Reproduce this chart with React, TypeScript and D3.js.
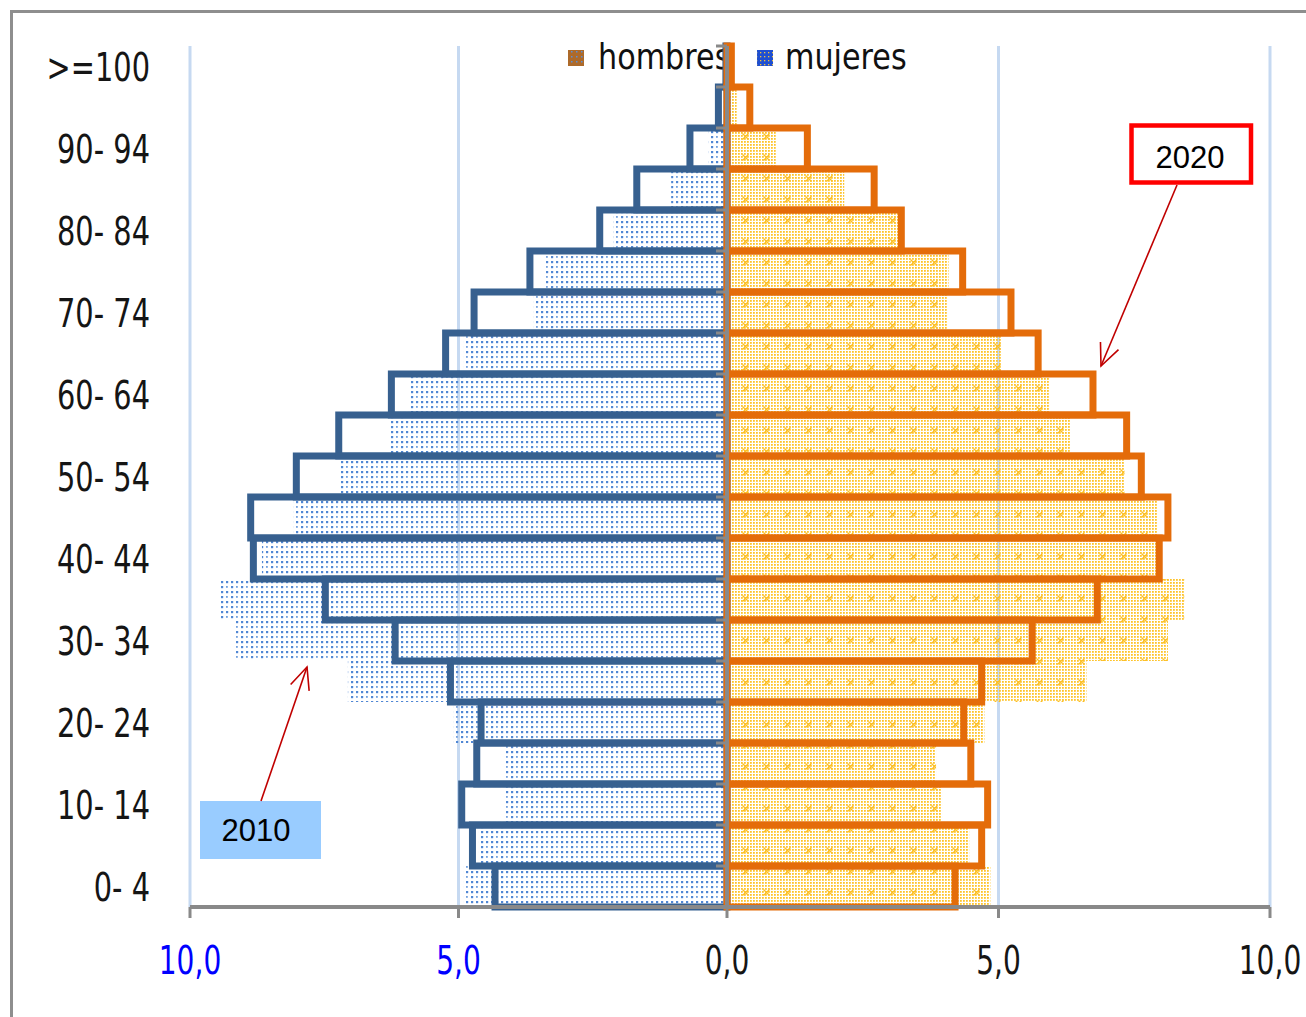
import React from 'react';
import * as d3 from 'd3';

// Age groups, bottom to top
const ageGroups = ["0- 4","5- 9","10- 14","15- 19","20- 24","25- 29","30- 34","35- 39","40- 44","45- 49","50- 54","55- 59","60- 64","65- 69","70- 74","75- 79","80- 84","85- 89","90- 94","95- 99",">=100"];

// 2010 pyramid (dotted fill), % of population
const hombres2010 = [4.9,4.62,4.12,4.12,5.09,7.06,9.15,9.45,8.66,8.07,7.19,6.29,5.89,4.9,3.6,3.4,2.12,1.04,0.35,0.06,0];
const mujeres2010 = [4.85,4.46,3.96,3.85,4.74,6.62,8.12,8.42,7.92,7.92,7.32,6.33,5.94,5.06,4.05,4.08,3.15,2.16,0.9,0.18,0.01];

// 2020 pyramid (outlined bars)
const hombres2020 = [4.32,4.74,4.94,4.66,4.58,5.15,6.18,7.48,8.82,8.87,8.02,7.23,6.25,5.24,4.71,3.67,2.37,1.68,0.69,0.16,0.02];
const mujeres2020 = [4.2,4.69,4.8,4.49,4.36,4.69,5.62,6.82,7.96,8.12,7.63,7.36,6.74,5.73,5.23,4.34,3.21,2.71,1.48,0.42,0.08];

const xTicks = [-10, -5, 0, 5, 10];
const xTickLabels = ["10,0", "5,0", "0,0", "5,0", "10,0"];
const legendLabels = ["hombres", "mujeres"];
const yearLabels = ["2010", "2020"];

export default function App() {
  const W = 1306, H = 1017;
  const x = d3.scaleLinear().domain([-10, 0, 10]).range([190, 727, 1270]);
  const y = d3.scaleBand<string>().domain([...ageGroups].reverse()).range([46, 907]).padding(0);
  const bw = y.bandwidth();
  const x0 = x(0);
  const top = 46, bottom = 907;

  const arrow = (x1: number, y1: number, x2: number, y2: number, len = 24, ang = 0.42) => {
    const a = Math.atan2(y2 - y1, x2 - x1);
    const p1 = [x2 - len * Math.cos(a - ang), y2 - len * Math.sin(a - ang)];
    const p2 = [x2 - len * Math.cos(a + ang), y2 - len * Math.sin(a + ang)];
    const line = d3.line();
    return (
      <g stroke="#c00000" strokeWidth={1.6} fill="none">
        <path d={line([[x1, y1], [x2, y2]]) || ''} />
        <path d={line([p1 as [number, number], [x2, y2], p2 as [number, number]]) || ''} />
      </g>
    );
  };

  const yellowDots: JSX.Element[] = [];
  for (let i = 0; i < 7; i++) for (let j = 0; j < 7; j++) {
    yellowDots.push(<rect key={i + '-' + j} x={i * 3} y={j * 3} width={1.8} height={1.8} fill="#fec42a" />);
  }

  const labelFont = "DejaVu Sans";

  return (
    <svg width={W} height={H} style={{ position: 'absolute', left: 0, top: 0, display: 'block' }} xmlns="http://www.w3.org/2000/svg">
      <defs>
        <pattern id="bluedots" patternUnits="userSpaceOnUse" width={10} height={10}>
          <rect x={1} y={1} width={2.2} height={2.2} fill="#5087d4" />
          <rect x={6} y={1} width={2.2} height={2.2} fill="#5087d4" />
          <rect x={1} y={6} width={2.2} height={2.2} fill="#5087d4" />
          <rect x={6} y={6} width={1.8} height={1.8} fill="#73a0de" />
        </pattern>
        <pattern id="yellowgrid" patternUnits="userSpaceOnUse" width={21} height={21}>
          {yellowDots}
          <path d="M7.5,7.5 L13.5,13.5 M13.5,7.5 L7.5,13.5" stroke="#fcbf24" strokeWidth={1.3} />
        </pattern>
        <pattern id="legH" patternUnits="userSpaceOnUse" width={5} height={5}>
          <rect width={5} height={5} fill="#ad6a2a" />
          <rect x={1} y={1} width={1.5} height={1.5} fill="#5b8fd8" />
        </pattern>
        <pattern id="legM" patternUnits="userSpaceOnUse" width={4} height={4}>
          <rect width={4} height={4} fill="#1f4fd1" />
          <rect x={0} y={0} width={1.3} height={1.3} fill="#f3c43a" />
        </pattern>
      </defs>
      <rect x={0} y={0} width={W} height={H} fill="#ffffff" />

      {/* frame */}
      <line x1={10} x2={W} y1={11.5} y2={11.5} stroke="#8e8e8e" strokeWidth={3} />
      <line x1={11.5} x2={11.5} y1={10} y2={H} stroke="#8e8e8e" strokeWidth={3} />

      {/* grid */}
      {xTicks.filter(t => t !== 0).map(t => (
        <line key={'g' + t} x1={x(t)} x2={x(t)} y1={top} y2={bottom} stroke="#c6d9f1" strokeWidth={3} />
      ))}

      {/* legend */}
      <rect x={568} y={50} width={16} height={16} fill="url(#legH)" />
      <text transform="translate(598,69) scale(0.84,1)" fontFamily={labelFont} fontSize={36} fill="#111">{legendLabels[0]}</text>
      <rect x={757} y={50} width={16} height={16} fill="url(#legM)" />
      <text transform="translate(785,69) scale(0.84,1)" fontFamily={labelFont} fontSize={36} fill="#111">{legendLabels[1]}</text>

      {/* 2010 dotted bars */}
      {ageGroups.map((a, i) => (
        <rect key={'h10' + a} x={x(-hombres2010[i])} y={y(a)} width={x0 - x(-hombres2010[i])} height={bw} fill="url(#bluedots)" />
      ))}
      {ageGroups.map((a, i) => (
        <rect key={'m10' + a} x={x0} y={y(a)} width={x(mujeres2010[i]) - x0} height={bw} fill="url(#yellowgrid)" />
      ))}

      {/* 2020 outlined bars */}
      {ageGroups.map((a, i) => (
        <rect key={'h20' + a} x={x(-hombres2020[i])} y={y(a)} width={x0 - x(-hombres2020[i])} height={bw} fill="none" stroke="#37608f" strokeWidth={7} />
      ))}
      {ageGroups.map((a, i) => (
        <rect key={'m20' + a} x={x0} y={y(a)} width={x(mujeres2020[i]) - x0} height={bw} fill="none" stroke="#e46c0a" strokeWidth={7} />
      ))}

      {/* category axis */}
      <line x1={x0} x2={x0} y1={top} y2={bottom} stroke="#898989" strokeWidth={4} />
      {[...ageGroups.map(a => y(a) as number), bottom].map((yy, i) => (
        <line key={'t' + i} x1={x0 - 11} x2={x0} y1={yy} y2={yy} stroke="#898989" strokeWidth={3} />
      ))}
      {[...ageGroups].reverse().map((a, i) => i % 2 === 0 ? (
        <text key={'yl' + a} transform={`translate(150,${(y(a) as number) + bw / 2 + 14}) scale(0.74,1)`} textAnchor="end" fontFamily={labelFont} fontSize={39} fill="#151515">{a}</text>
      ) : null)}

      {/* value axis */}
      <line x1={x(-10)} x2={x(10)} y1={bottom} y2={bottom} stroke="#898989" strokeWidth={4} />
      {xTicks.map(t => (
        <line key={'xt' + t} x1={x(t)} x2={x(t)} y1={bottom} y2={bottom + 11} stroke="#898989" strokeWidth={3} />
      ))}
      {xTicks.map((t, i) => (
        <text key={'xl' + i} transform={`translate(${x(t)},974) scale(0.72,1)`} textAnchor="middle" fontFamily={labelFont} fontSize={39} fill={t < 0 ? '#0000ff' : '#151515'}>{xTickLabels[i]}</text>
      ))}

      {/* annotations */}
      <rect x={200} y={801} width={121} height={58} fill="#99ccff" />
      <text x={256} y={841} textAnchor="middle" fontFamily="Liberation Sans" fontSize={31} fill="#000">{yearLabels[0]}</text>
      {arrow(261, 801, 307, 667)}

      <rect x={1131.5} y={125.5} width={119.5} height={57} fill="#ffffff" stroke="#ff0000" strokeWidth={4.5} />
      <text x={1190} y={168} textAnchor="middle" fontFamily="Liberation Sans" fontSize={31} fill="#000">{yearLabels[1]}</text>
      {arrow(1177, 185, 1101, 366)}
    </svg>
  );
}
